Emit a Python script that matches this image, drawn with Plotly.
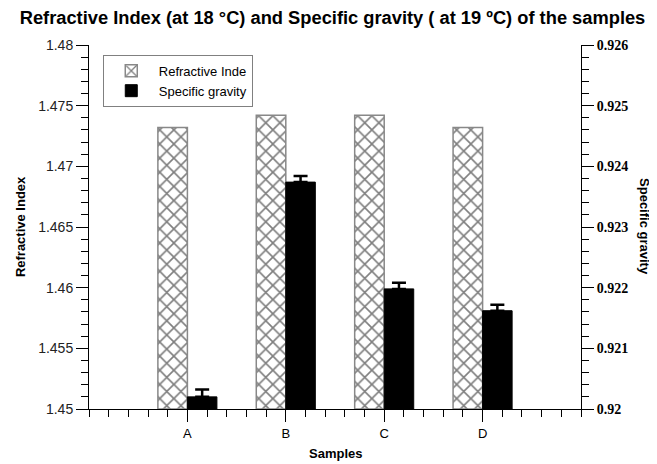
import plotly.graph_objects as go

samples = ["A", "B", "C", "D"]
refractive_index = [1.4732, 1.4742, 1.4742, 1.4732]
specific_gravity = [0.9202, 0.92374, 0.92198, 0.92162]
sg_error = [0.00012, 0.0001, 0.0001, 0.0001]

ri_base = 1.45
sg_base = 0.92
xpos = list(range(1, len(samples) + 1))

fig = go.Figure()
fig.add_trace(go.Bar(
    x=xpos, y=[v - ri_base for v in refractive_index], base=ri_base, name="Refractive Inde",
    width=0.3, offset=-0.3,
    marker=dict(color="white", line=dict(color="#888888", width=1.5),
                pattern=dict(shape="x", fgcolor="black", bgcolor="white", size=10, solidity=0.3)),
    yaxis="y",
))
fig.add_trace(go.Bar(
    x=xpos, y=[v - sg_base for v in specific_gravity], base=sg_base, name="Specific gravity",
    width=0.3, offset=0.0,
    marker=dict(color="black", line=dict(color="black", width=1)),
    error_y=dict(type="data", array=sg_error, arrayminus=[0] * len(sg_error), symmetric=False,
                 color="black", thickness=2.5, width=7),
    yaxis="y2",
))

# the page body adds an 8px offset, so the figure is drawn 8px smaller
fig.update_layout(
    width=649, height=456,
    margin=dict(l=81, r=76, t=37, b=55),
    paper_bgcolor="white", plot_bgcolor="white",
    showlegend=True,
    barmode="overlay",
    title=dict(text="Refractive Index (at 18 °C) and Specific gravity ( at 19 ºC) of the samples",
               x=0.5, xanchor="center", y=0.978, yanchor="middle",
               font=dict(family="Liberation Sans", size=18.3, color="black", weight="bold")),
    legend=dict(x=0.028, y=0.973, xanchor="left", yanchor="top",
                bordercolor="#808080", borderwidth=1, bgcolor="white",
                font=dict(family="Liberation Sans", size=13, color="black"),
                tracegroupgap=0, itemwidth=45, entrywidth=148),
    xaxis=dict(range=[0, 5], tickvals=xpos, ticktext=samples,
               showline=True, linecolor="black", linewidth=1,
               ticks="outside", ticklen=12, tickcolor="black", tickwidth=1,
               minor=dict(dtick=0.2, tick0=0, ticks="outside", ticklen=7, tickcolor="black"),
               showgrid=False, zeroline=False,
               tickfont=dict(family="Liberation Sans", size=13, color="black")),
    yaxis=dict(range=[1.45, 1.48], dtick=0.005, tick0=1.45,
               showline=True, linecolor="black", linewidth=1,
               ticks="outside", ticklen=12, tickcolor="black",
               minor=dict(dtick=0.001, tick0=1.45, ticks="outside", ticklen=7, tickcolor="black"),
               showgrid=False, zeroline=False,
               tickfont=dict(family="Liberation Sans", size=14, color="#222222")),
    yaxis2=dict(range=[0.92, 0.926], dtick=0.001, tick0=0.92, overlaying="y", side="right",
                showline=True, linecolor="black", linewidth=1,
                ticks="outside", ticklen=12, tickcolor="black",
                minor=dict(dtick=0.0002, tick0=0.92, ticks="outside", ticklen=7, tickcolor="black"),
                showgrid=False, zeroline=False,
                tickfont=dict(family="Liberation Serif", size=14, color="black", weight="bold")),
    annotations=[
        dict(text="<b>Samples</b>", xref="paper", yref="paper", x=0.5, y=-0.121,
             xanchor="center", yanchor="middle", showarrow=False,
             font=dict(family="Liberation Sans", size=13, color="black")),
        dict(text="<b>Refractive Index</b>", xref="paper", yref="paper", x=-0.14, y=0.5,
             xanchor="center", yanchor="middle", textangle=-90, showarrow=False,
             font=dict(family="Liberation Sans", size=13, color="black")),
        dict(text="<b>Specific gravity</b>", xref="paper", yref="paper", x=1.13, y=0.5,
             xanchor="center", yanchor="middle", textangle=90, showarrow=False,
             font=dict(family="Liberation Sans", size=13, color="black")),
    ],
)

fig.write_html("out.html")
